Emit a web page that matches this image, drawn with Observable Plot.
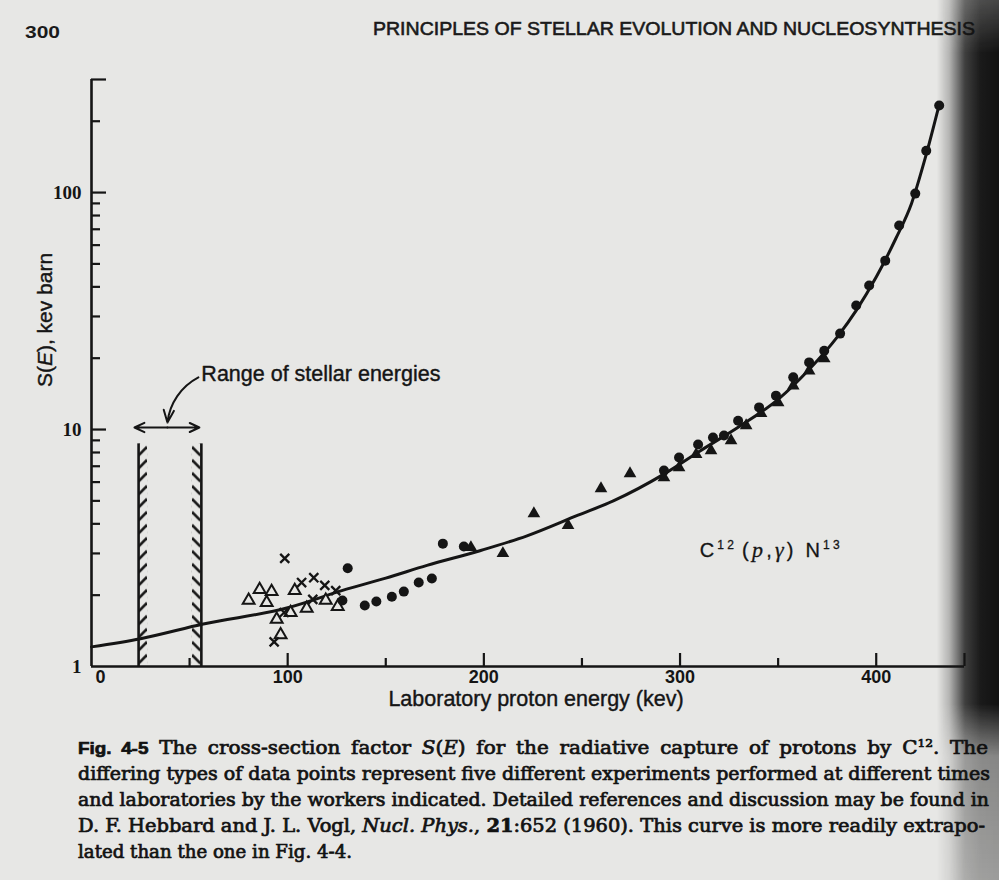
<!DOCTYPE html>
<html><head><meta charset="utf-8">
<script src="https://cdn.jsdelivr.net/npm/d3@7"></script>
<script src="https://cdn.jsdelivr.net/npm/@observablehq/plot@0.6"></script>
<style>
html,body{margin:0;padding:0;}
body{width:999px;height:880px;overflow:hidden;position:relative;background:#e7e7e5;}
#header{position:absolute;left:0;top:0;}
#chart{position:absolute;left:0;top:60px;}
#caption{position:absolute;left:0;top:732px;}
#shadow{position:absolute;right:0;top:0;width:62px;height:880px;pointer-events:none;
 background:linear-gradient(to right, rgba(25,25,25,0) 0%, rgba(25,25,25,0.25) 20%, rgba(20,20,20,0.8) 45%, rgba(15,15,15,0.95) 70%, rgba(10,10,10,0.97) 100%);
 -webkit-mask-image:linear-gradient(to bottom, rgba(0,0,0,0.75) 0%, #000 6%, #000 80%, rgba(0,0,0,0.45) 86%, rgba(0,0,0,0.35) 100%);
 mask-image:linear-gradient(to bottom, rgba(0,0,0,0.75) 0%, #000 6%, #000 80%, rgba(0,0,0,0.45) 86%, rgba(0,0,0,0.35) 100%);}
</style></head>
<body>
<svg id="header" width="999" height="60" font-family="Liberation Sans, Arial, sans-serif" fill="#1a1a1a">
  <text x="25" y="38" font-size="16" font-weight="bold" textLength="35" lengthAdjust="spacingAndGlyphs">300</text>
  <text x="373" y="35" font-size="19" stroke="#1a1a1a" stroke-width="0.6" textLength="602" lengthAdjust="spacingAndGlyphs">PRINCIPLES OF STELLAR EVOLUTION AND NUCLEOSYNTHESIS</text>
</svg>
<div id="chart"></div>
<svg id="caption" width="999" height="148" font-family="DejaVu Serif, Liberation Serif, serif" font-size="18" fill="#121212" stroke="#121212" stroke-width="0.7" style="white-space:pre">
  <text x="78" y="22" textLength="910" lengthAdjust="spacingAndGlyphs" style="word-spacing:4px"><tspan font-family="Liberation Sans, Arial, sans-serif" font-weight="bold" font-size="17">Fig. 4-5</tspan>  The cross-section factor <tspan font-style="italic">S</tspan>(<tspan font-style="italic">E</tspan>) for the radiative capture of protons by C<tspan font-size="11" dy="-7">12</tspan><tspan dy="7">.  The</tspan></text>
  <text x="78" y="48" textLength="912" lengthAdjust="spacingAndGlyphs">differing types of data points represent five different experiments performed at different times</text>
  <text x="78" y="74" textLength="911" lengthAdjust="spacingAndGlyphs">and laboratories by the workers indicated.   Detailed references and discussion may be found in</text>
  <text x="78" y="100" textLength="907" lengthAdjust="spacingAndGlyphs">D. F. Hebbard and J. L. Vogl, <tspan font-style="italic">Nucl. Phys.</tspan>, <tspan font-weight="bold">21</tspan>:652 (1960).   This curve is more readily extrapo-</text>
  <text x="78" y="126" textLength="274" lengthAdjust="spacingAndGlyphs">lated than the one in Fig. 4-4.</text>
</svg>
<div id="shadow"></div>
<script>
const ink = "#151515";
const paper = "#e7e7e5";
const sans = "Liberation Sans, Arial, Helvetica, sans-serif";

// axis ticks
const xTickLabels = [0, 100, 200, 300, 400];
const xMajorTicks = [100, 200, 300, 400, 445];
const xMinorTicks = [50, 150, 250, 350];
const yTickLabels = [1, 10, 100];
const yMajorTicks = [10, 100, 300];
const yMinorTicks = [2, 3, 4, 5, 6, 7, 8, 9, 20, 30, 40, 50, 60, 70, 80, 90, 200];

// fitted curve S(E)
const curveE = [0, 25, 57, 100, 130, 150, 171, 198, 222, 248, 266, 292, 310, 331, 350, 366, 380, 390, 400, 410, 418, 425, 432];
const curveS = [1.21, 1.31, 1.51, 1.77, 2.12, 2.36, 2.67, 3.08, 3.56, 4.35, 5.0, 6.5, 8.1, 10.4, 13.4, 18.0, 24.5, 32, 44, 64, 90, 140, 233];

// experiments
const openTriE = [80.1, 85.7, 91.8, 89.3, 94.4, 96.4, 101.5, 103.6, 109.7, 119.4, 125.5];
const openTriS = [1.90, 2.11, 2.07, 1.86, 1.58, 1.36, 1.69, 2.09, 1.76, 1.90, 1.79];
const crossE = [98.5, 107.1, 113.3, 118.9, 124.5, 93.1, 98.2, 112.8];
const crossS = [2.86, 2.26, 2.37, 2.20, 2.09, 1.27, 1.69, 1.92];
const circleE = [127.9, 130.6, 139.3, 145.2, 153.1, 159.2, 166.8, 173.5, 179.1, 189.8,
  291.8, 299.5, 309.2, 316.8, 322.4, 329.6, 340.3, 348.9, 357.7, 365.8, 373.5, 381.6, 389.8, 396.4, 404.6, 411.7, 419.9, 425.5, 432.1];
const circleS = [1.90, 2.60, 1.81, 1.88, 1.97, 2.07, 2.26, 2.35, 3.30, 3.21,
  6.71, 7.62, 8.64, 9.25, 9.44, 10.9, 12.4, 13.9, 16.6, 19.2, 21.5, 25.4, 33.4, 40.5, 51.6, 72.6, 99.0, 150, 233];
const triE = [193.4, 209.7, 225.5, 242.9, 259.7, 274.5, 291.8, 299.5, 308.2, 315.8, 326.0, 333.7, 341.3, 350.0, 357.7, 365.8, 373.5];
const triS = [3.18, 3.00, 4.42, 3.94, 5.64, 6.52, 6.27, 6.91, 7.85, 8.15, 8.99, 10.4, 11.7, 13.0, 15.3, 17.7, 19.9];

// annotations
const stellarRange = [24, 56];
const stellarTop = 8.7;
const stellarArrow = {mid: 38.7, left: 21.9, right: 55, S: 10.2};
const stellarLabel = {E: 56, S: 17.1, text: "Range of stellar energies"};
const stellarPointer = {x1: 54.5, y1: 16.6, x2: 38.7, y2: 10.7};
const reactionLabel = {E: 310, S: 3.09, text: "C12(p,γ)N13"};
const xTitle = "Laboratory proton energy (kev)";
const yTitle = "S(E), kev barn";

const zip = (E, S) => E.map((e, i) => ({E: e, S: S[i]}));
const curve = zip(curveE, curveS);

const W = 999, H = 672, mL = 91, mR = 35, mT = 19, mB = 66;
const innerW = W - mL - mR, innerH = H - mT - mB;

const chart = Plot.plot({
  width: W, height: H,
  marginLeft: mL, marginRight: mR, marginTop: mT, marginBottom: mB,
  x: {domain: [0, 445]},
  y: {type: "log", domain: [1, 300]},
  style: {background: "transparent", color: ink, fontFamily: sans, overflow: "visible"},
  marks: [
    // stellar range hatched bars
    Plot.rect([stellarRange[0]], {x1: d => d, x2: d => d, y1: 1, y2: stellarTop, insetRight: -9, fill: "url(#hatchL)"}),
    Plot.rect([stellarRange[1]], {x1: d => d, x2: d => d, y1: 1, y2: stellarTop, insetLeft: -9, fill: "url(#hatchR)"}),
    Plot.ruleX(stellarRange, {x: d => d, y1: 1, y2: stellarTop, stroke: ink, strokeWidth: 2.6}),
    Plot.arrow([{x1: stellarArrow.mid, x2: stellarArrow.left}, {x1: stellarArrow.mid, x2: stellarArrow.right}],
      {x1: "x1", x2: "x2", y1: stellarArrow.S, y2: stellarArrow.S, stroke: ink, strokeWidth: 2, headLength: 9, headAngle: 50}),
    Plot.arrow([stellarPointer], {x1: "x1", y1: "y1", x2: "x2", y2: "y2", bend: -28, stroke: ink, strokeWidth: 2, headLength: 10, headAngle: 45}),
    Plot.text([stellarLabel], {x: "E", y: "S", text: "text", textAnchor: "start", fontSize: 21.5, fill: ink, stroke: ink, strokeWidth: 0.4}),
    // axes lines
    Plot.ruleX([0], {stroke: ink, strokeWidth: 2.6}),
    Plot.ruleY([1], {stroke: ink, strokeWidth: 2.6}),
    // inward ticks
    Plot.tickY(yMajorTicks, {y: d => d, insetRight: innerW - 15, stroke: ink, strokeWidth: 2.2}),
    Plot.tickY(yMinorTicks, {y: d => d, insetRight: innerW - 9, stroke: ink, strokeWidth: 2.2}),
    Plot.tickX(xMajorTicks, {x: d => d, insetTop: innerH - 13, stroke: ink, strokeWidth: 2.2}),
    Plot.tickX(xMinorTicks, {x: d => d, insetTop: innerH - 8, stroke: ink, strokeWidth: 2.2}),
    Plot.axisX(xTickLabels, {anchor: "bottom", tickSize: 0, tickPadding: 4, tickFormat: d => String(d), fontSize: 18, fontWeight: "bold", label: null}),
    Plot.axisY(yTickLabels, {anchor: "left", tickSize: 0, tickPadding: 10, tickFormat: d => String(d), fontSize: 19, fontWeight: "bold", fontFamily: "Liberation Serif, serif", label: null}),
    Plot.text([xTitle], {frameAnchor: "bottom", dx: 8, dy: 39, fontSize: 21.5, fill: ink, stroke: ink, strokeWidth: 0.4}),
    Plot.text([yTitle], {frameAnchor: "left", fontSize: 21, fill: ink, stroke: ink, strokeWidth: 0.4}),
    // curve
    Plot.line(curve, {x: "E", y: "S", curve: "monotone-x", stroke: ink, strokeWidth: 3}),
    // data points
    Plot.dot(zip(openTriE, openTriS), {x: "E", y: "S", symbol: "triangle", r: 4.4, stroke: ink, strokeWidth: 2, fill: paper}),
    Plot.dot(zip(crossE, crossS), {x: "E", y: "S", symbol: "times", r: 4.2, stroke: ink, strokeWidth: 2.3}),
    Plot.dot(zip(circleE, circleS), {x: "E", y: "S", r: 5, fill: ink, stroke: "none"}),
    Plot.dot(zip(triE, triS), {x: "E", y: "S", symbol: "triangle", r: 4.7, fill: ink, stroke: "none"}),
    Plot.text([reactionLabel], {x: "E", y: "S", text: "text", textAnchor: "start", fontSize: 20, fill: ink, stroke: ink, strokeWidth: 0.3})
  ]
});
document.getElementById("chart").appendChild(chart);

// post-process: rich text and placement of the rotated y title
d3.select(chart).selectAll("text").each(function() {
  const t = this.textContent;
  if (t === yTitle) {
    this.innerHTML = 'S(<tspan font-style="italic">E</tspan>), kev barn';
    this.setAttribute("transform", "translate(45,260) rotate(-90)");
    this.setAttribute("x", 0); this.setAttribute("y", 0);
    this.setAttribute("text-anchor", "middle");
    this.setAttribute("font-size", 21);
    this.setAttribute("dy", "0.35em");
    const g = this.parentNode;
    if (g.getAttribute("transform")) g.removeAttribute("transform");
  }
  if (t === reactionLabel.text) {
    this.innerHTML = 'C<tspan font-size="12" dy="-8">12</tspan><tspan dy="8" dx="5">(</tspan><tspan font-style="italic" font-family="Liberation Serif, serif" font-size="22">p</tspan>,<tspan font-style="italic" font-family="Liberation Serif, serif" font-size="22">γ</tspan>) N<tspan font-size="12" dy="-8">13</tspan>';
    this.setAttribute("textLength", 140);
    this.setAttribute("lengthAdjust", "spacing");
  }
  if (t === "0" && this.closest('[aria-label="x-axis tick label"]')) this.setAttribute("dx", 9);
});

// hatch patterns aligned to the bars
const defs = d3.select(chart).insert("defs", ":first-child");
chart.querySelectorAll("rect").forEach(r => {
  const holder = r.closest("[fill]");
  const f = holder ? holder.getAttribute("fill") : null;
  if (f !== "url(#hatchL)" && f !== "url(#hatchR)") return;
  const id = f.slice(5, -1);
  const x = +r.getAttribute("x"), y = +r.getAttribute("y");
  const p = defs.append("pattern").attr("id", id).attr("patternUnits", "userSpaceOnUse")
    .attr("x", x).attr("y", y).attr("width", 9).attr("height", 13);
  p.append("path").attr("d", id === "hatchL" ? "M0.5,12 L9,3.5" : "M0,3.5 L8.5,12")
    .attr("stroke", ink).attr("stroke-width", 2.6).attr("fill", "none");
});
</script>
</body></html>
